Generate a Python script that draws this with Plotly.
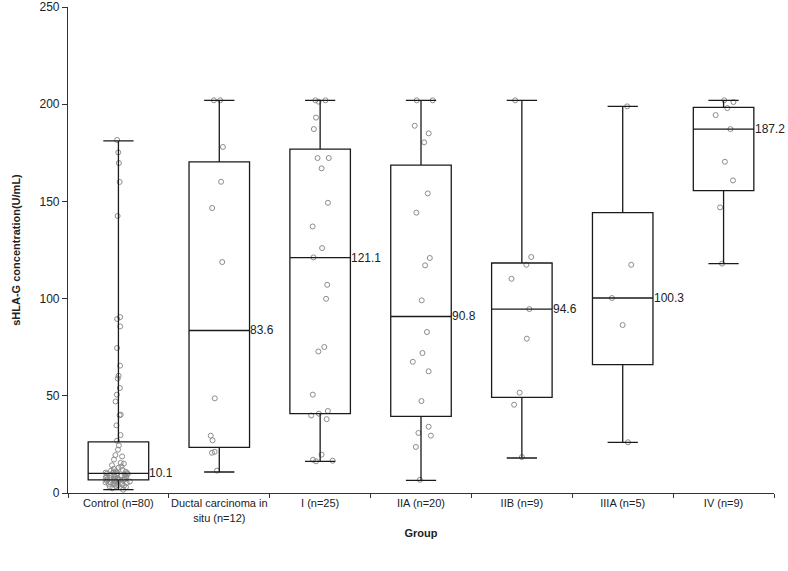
import plotly.graph_objects as go

categories = ["Control (n=80)", "Ductal carcinoma in<br>situ (n=12)", "I (n=25)",
              "IIA (n=20)", "IIB (n=9)", "IIIA (n=5)", "IV (n=9)"]

# box statistics
q1 = [6.8, 23.5, 40.8, 39.4, 49.2, 66.0, 155.5]
median = [10.1, 83.6, 121.1, 90.8, 94.6, 100.3, 187.2]
q3 = [26.3, 170.3, 176.9, 168.7, 118.3, 144.2, 198.4]
lower_whisker = [1.7, 10.8, 16.3, 6.5, 18.0, 26.0, 118.0]
upper_whisker = [181.1, 202.0, 202.0, 202.0, 202.0, 198.9, 202.0]

# individual observations
control = [181.6, 175.2, 169.7, 160.0, 142.5, 90.5, 89.5, 85.7, 74.6, 65.5,
           60.3, 58.9, 54.0, 50.6, 47.1, 40.3, 40.0, 34.8, 29.8, 26.9,
           24.5, 22.3, 19.5, 18.8, 17.2, 15.5, 15.1, 14.3, 13.6, 13.0,
           12.4, 11.9, 11.5, 11.2, 10.9, 10.7, 10.5, 10.4, 10.3, 10.2,
           10.0, 9.8, 9.7, 9.4, 9.1, 9.0, 8.8, 8.5, 8.4, 8.1,
           8.0, 7.8, 7.5, 7.4, 7.3, 7.2, 7.1, 7.0, 6.9, 6.9,
           6.7, 6.4, 6.3, 6.0, 5.9, 5.6, 5.5, 5.2, 5.1, 4.8,
           4.7, 4.4, 4.3, 4.0, 3.8, 3.6, 3.2, 3.0, 2.4, 1.7]
dcis = [202.0, 202.0, 178.0, 160.1, 146.6, 118.8, 48.7, 29.5, 27.1, 21.2, 20.7, 11.5]
stage_i = [202.0, 202.0, 201.3, 193.1, 187.2, 172.3, 172.3, 167.0, 149.3, 137.1,
           126.0, 121.2, 107.1, 99.9, 75.1, 72.8, 50.6, 42.2, 40.8, 39.9,
           38.0, 19.7, 17.1, 16.6, 16.3]
stage_iia = [202.0, 202.0, 188.9, 185.0, 180.4, 154.1, 144.2, 120.9, 117.1, 99.1,
             82.8, 72.0, 67.5, 62.6, 47.3, 34.1, 30.9, 29.5, 23.7, 6.8]
stage_iib = [202.0, 121.4, 117.4, 110.2, 94.6, 79.4, 51.6, 45.4, 18.5]
stage_iiia = [198.9, 117.4, 100.3, 86.4, 26.1]
stage_iv = [202.0, 201.1, 198.0, 194.4, 187.2, 170.4, 160.8, 146.9, 118.0]

groups = [control, dcis, stage_i, stage_iia, stage_iib, stage_iiia, stage_iv]

FONT = "Arial, Liberation Sans, sans-serif"

fig = go.Figure()

# points (invisible box, jittered points)
px, py = [], []
for cat, vals in zip(categories, groups):
    px += [cat] * len(vals)
    py += vals
fig.add_trace(go.Box(
    x=px, y=py, boxpoints="all", jitter=0.45, pointpos=0, width=0.6,
    line=dict(color="rgba(0,0,0,0)", width=0), fillcolor="rgba(0,0,0,0)",
    marker=dict(symbol="circle-open", size=5, color="#8c8c8c",
                line=dict(width=1, color="#8c8c8c")),
    showlegend=False, hoverinfo="y"))

# boxes from precomputed statistics
fig.add_trace(go.Box(
    x=categories, q1=q1, median=median, q3=q3,
    lowerfence=lower_whisker, upperfence=upper_whisker,
    boxpoints=False, whiskerwidth=0.5, width=0.6,
    line=dict(color="#1a1a1a", width=1.3), fillcolor="rgba(255,255,255,0)",
    showlegend=False))

for cat, m in zip(categories, median):
    fig.add_annotation(x=cat, y=m, text=f"{m:.1f}", showarrow=False,
                       xanchor="left", yanchor="middle", xshift=29,
                       font=dict(family=FONT, size=12, color="#222"))

fig.update_layout(
    width=788, height=571,
    margin=dict(l=68, r=14, t=7, b=78),
    paper_bgcolor="white", plot_bgcolor="white",
    boxmode="overlay",
    font=dict(family=FONT, size=11, color="#222"),
    xaxis=dict(
        type="category", range=[-0.5, 6.5], showline=True, linecolor="#333",
        linewidth=1.2, ticks="outside", tickson="boundaries", ticklen=4,
        tickcolor="#333", showgrid=False, tickfont=dict(size=11),
        tickangle=0, automargin=False,
        title=dict(text="<b>Group</b>", font=dict(size=11), standoff=6)),
    yaxis=dict(
        range=[0, 250], tickvals=[0, 50, 100, 150, 200, 250],
        showline=True, linecolor="#333", linewidth=1.2, ticks="outside",
        ticklen=5, tickcolor="#333", showgrid=False, zeroline=False,
        tickfont=dict(size=12), automargin=False,
        title=dict(text="<b>sHLA-G concentration(U/mL)</b>",
                   font=dict(size=11), standoff=16)),
)

# remove the default page margin so the figure fills the window exactly
fig.write_html("out.html", config={"displayModeBar": False},
               post_script="document.body.style.margin='0';")
